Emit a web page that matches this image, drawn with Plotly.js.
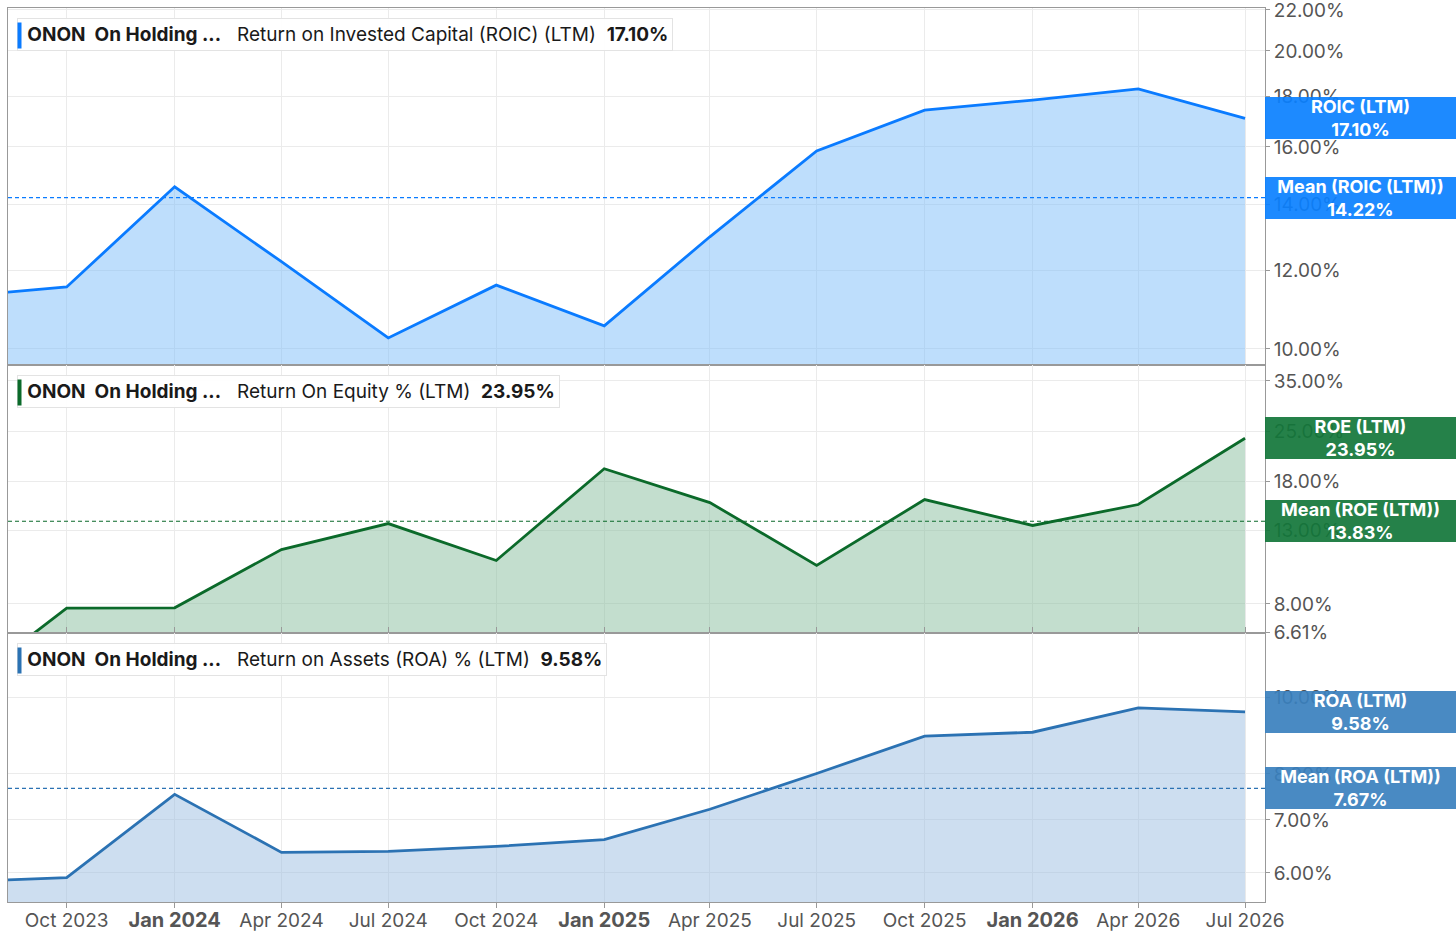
<!DOCTYPE html>
<html>
<head>
<meta charset="utf-8">
<script src="https://cdn.plot.ly/plotly-3.0.1.min.js"></script>
<style>
  html, body { margin: 0; padding: 0; background: #fff; }
  #chart { width: 1456px; height: 937px; }
</style>
</head>
<body>
<div id="chart"></div>
<script>
// quarterly dates (first one is just left of the visible range)
const dates = ['2023-07-01', '2023-10-01', '2024-01-01', '2024-04-01', '2024-07-01', '2024-10-01',
  '2025-01-01', '2025-04-01', '2025-07-01', '2025-10-01', '2026-01-01', '2026-04-01', '2026-07-01'];

const roic = [11.3, 11.55, 14.58, 12.25, 10.26, 11.6, 10.55, 12.98, 15.85, 17.43, 17.84, 18.31, 17.10];
const roe = [4.5, 7.78, 7.8, 11.47, 13.62, 10.67, 19.58, 15.65, 10.33, 15.96, 13.45, 15.45, 23.95];
const roa = [5.85, 5.92, 7.54, 6.37, 6.39, 6.48, 6.61, 7.22, 8.01, 8.93, 9.03, 9.69, 9.58];

const roicMean = 14.22;
const roeMean = 13.83;
const roaMean = 7.67;

const xRange = ['2023-08-12', '2026-07-18'];
const xTicks = ['2023-10-01', '2024-01-01', '2024-04-01', '2024-07-01', '2024-10-01', '2025-01-01',
  '2025-04-01', '2025-07-01', '2025-10-01', '2026-01-01', '2026-04-01', '2026-07-01'];
const xLabels = ['Oct 2023', 'Jan 2024', 'Apr 2024', 'Jul 2024', 'Oct 2024', 'Jan 2025',
  'Apr 2025', 'Jul 2025', 'Oct 2025', 'Jan 2026', 'Apr 2026', 'Jul 2026'];

const roicTicks = [10, 12, 14, 16, 18, 20, 22];
const roeTicks = [6.61, 8, 13, 18, 25, 35];
const roaTicks = [6, 7, 8, 10];

const pct = v => v.toFixed(2) + '%';
const nb = '\u00a0';

const fontFam = 'Inter, "Noto Sans", sans-serif';

function area(y, yaxis, line, fill) {
  return {
    x: dates, y: y, yaxis: yaxis, type: 'scatter', mode: 'lines',
    line: { color: line, width: 2.8 },
    fill: 'tozeroy', fillcolor: fill,
    hoverinfo: 'skip', showlegend: false
  };
}
function meanLine(m, yaxis, color) {
  return {
    x: xRange, y: [m, m], yaxis: yaxis, type: 'scatter', mode: 'lines',
    line: { color: color, width: 1.2, dash: '4px,3px' },
    hoverinfo: 'skip', showlegend: false
  };
}

const data = [
  area(roic, 'y', '#0a7bff', 'rgba(125,190,250,0.5)'),
  meanLine(roicMean, 'y', '#0a7bff'),
  area(roe, 'y2', '#0b6a2a', 'rgba(135,190,158,0.5)'),
  meanLine(roeMean, 'y2', '#0b6a2a'),
  area(roa, 'y3', '#2b72b3', 'rgba(155,190,225,0.5)'),
  meanLine(roaMean, 'y3', '#2b72b3')
];

function yAxis(ticks, range, domain) {
  return {
    type: 'log', side: 'right', domain: domain,
    range: range,
    tickvals: ticks, ticktext: ticks.map(pct),
    tickfont: { family: fontFam, size: 19, color: '#555' },
    ticks: 'outside', ticklen: 4, tickcolor: '#999',
    ticklabeloverflow: 'allow',
    showgrid: true, gridcolor: '#ebebeb', gridwidth: 1,
    showline: true, mirror: true, linecolor: '#999', linewidth: 1,
    zeroline: false, fixedrange: true
  };
}

function legendBox(label, value, color, domTop) {
  return [
    {
      xref: 'paper', yref: 'paper', x: 0, y: domTop, xanchor: 'left', yanchor: 'top',
      xshift: 9, yshift: -10, showarrow: false, align: 'left',
      text: nb + '<b>ONON' + nb + nb + 'On Holding ...</b>' + nb + nb + nb + label + nb + nb + '<b>' + pct(value) + '</b>',
      font: { family: fontFam, size: 19, color: '#1a1a1a' },
      bgcolor: 'rgba(255,255,255,0.92)', bordercolor: '#e3e3e3', borderwidth: 1, borderpad: 4
    },
    {
      xref: 'paper', yref: 'paper', x: 0, y: domTop, xanchor: 'left', yanchor: 'top',
      xshift: 9, yshift: -14, showarrow: false, text: ' ',
      width: 3, height: 25, bgcolor: color, borderpad: 0
    }
  ];
}

function valueBox(yref, v, name, color) {
  return {
    xref: 'paper', yref: yref, x: 1, y: Math.log10(v), xanchor: 'left', yanchor: 'middle',
    showarrow: false, align: 'center',
    text: '<b>' + name + '<br>' + pct(v) + '</b>',
    font: { family: fontFam, size: 18, color: '#fff' },
    bgcolor: color, width: 187, height: 38, borderpad: 2, borderwidth: 0
  };
}

const d3 = [0, 0.3009];
const d2 = [0.3009, 0.6007];
const d1 = [0.6007, 1];

const layout = {
  width: 1456, height: 937,
  margin: { l: 8, r: 191, t: 8, b: 35 },
  paper_bgcolor: '#fff', plot_bgcolor: '#fff',
  font: { family: fontFam },
  showlegend: false,
  xaxis: {
    type: 'date', range: xRange, anchor: 'y3',
    tickvals: xTicks,
    ticktext: xLabels.map(s => s.startsWith('Jan') ? '<span style="font-size:20px"><b>' + s + '</b></span>' : s),
    tickfont: { family: fontFam, size: 19, color: '#555' },
    ticks: 'outside', ticklen: 5, tickcolor: '#999',
    ticklabelstandoff: -4,
    showgrid: true, gridcolor: '#ebebeb', gridwidth: 1,
    showline: true, mirror: 'all', linecolor: '#999', linewidth: 1,
    zeroline: false, fixedrange: true
  },
  yaxis: yAxis(roicTicks, [0.9838, 1.3444], d1),
  yaxis2: yAxis(roeTicks, [Math.log10(6.61) - 0.0005, 1.5899], d2),
  yaxis3: yAxis(roaTicks, [0.7415, 1.0809], d3),
  annotations: [
    ...legendBox('Return on Invested Capital (ROIC) (LTM)', roic[roic.length - 1], '#0a7bff', 1),
    ...legendBox('Return On Equity % (LTM)', roe[roe.length - 1], '#0b6a2a', d2[1]),
    ...legendBox('Return on Assets (ROA) % (LTM)', roa[roa.length - 1], '#2b72b3', d3[1]),
    valueBox('y', roic[roic.length - 1], 'ROIC (LTM)', 'rgba(10,128,255,0.92)'),
    valueBox('y', roicMean, 'Mean (ROIC (LTM))', 'rgba(10,128,255,0.92)'),
    valueBox('y2', roe[roe.length - 1], 'ROE (LTM)', 'rgba(18,118,58,0.92)'),
    valueBox('y2', roeMean, 'Mean (ROE (LTM))', 'rgba(18,118,58,0.92)'),
    valueBox('y3', roa[roa.length - 1], 'ROA (LTM)', 'rgba(58,128,190,0.92)'),
    valueBox('y3', roaMean, 'Mean (ROA (LTM))', 'rgba(58,128,190,0.92)')
  ]
};

Plotly.newPlot('chart', data, layout, { displayModeBar: false, staticPlot: true });
</script>
</body>
</html>
